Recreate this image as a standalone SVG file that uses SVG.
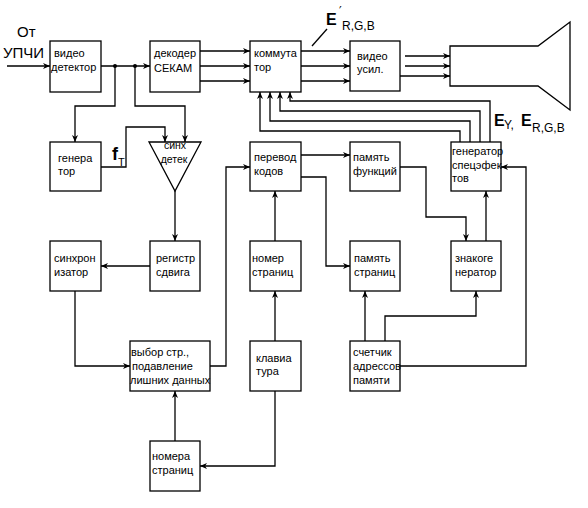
<svg xmlns="http://www.w3.org/2000/svg" width="588" height="508" viewBox="0 0 588 508">
<defs>
<marker id="ah" markerWidth="8" markerHeight="7" refX="7" refY="3.5" orient="auto" markerUnits="userSpaceOnUse">
<path d="M0,0.5 L7,3.5 L0,6.5 L2,3.5 z" fill="#000"/>
</marker>
</defs>
<style>
.b{fill:#fff;stroke:#000;stroke-width:1.3}
.t{font-family:"Liberation Sans",Arial,sans-serif;font-size:11px;font-weight:normal;fill:#000}
.s{font-family:"Liberation Sans",Arial,sans-serif;font-size:10.5px;fill:#000}
.c{fill:none;stroke:#000;stroke-width:1.3}
.a{marker-end:url(#ah)}
.bl{font-family:"Liberation Sans",Arial,sans-serif;font-weight:bold;fill:#000}
.sub{font-family:"Liberation Sans",Arial,sans-serif;font-size:12px;fill:#000}
</style>
<rect width="588" height="508" fill="#fff"/>
<g id="connectors" class="c">
<path class="a" d="M7,66 H50"/>
<path class="a" d="M101,66 H150"/>
<path class="a" d="M115,66 V106 H75 V142"/>
<path class="a" d="M135,66 V106 H185 V142"/>
<path class="a" d="M101,167 H126 V127 H165 V142"/>
<path class="a" d="M200,51 H250"/>
<path class="a" d="M200,66 H250"/>
<path class="a" d="M200,81 H250"/>
<path class="a" d="M301,51 H350"/>
<path class="a" d="M301,66 H350"/>
<path class="a" d="M301,81 H350"/>
<path class="a" d="M405,56 H450"/>
<path class="a" d="M405,66 H450"/>
<path class="a" d="M400,76 H450"/>
<path class="a" d="M460,142 V131 H260 V92"/>
<path class="a" d="M470,142 V121 H270 V92"/>
<path class="a" d="M480,142 V111 H280 V92"/>
<path class="a" d="M490,142 V101 H290 V92"/>
<path class="a" d="M175,191 V241"/>
<path class="a" d="M150,266 H101"/>
<path class="a" d="M75,291 V366 H130"/>
<path class="a" d="M210,366 H226 V167 H250"/>
<path class="a" d="M275,241 V191"/>
<path class="a" d="M275,341 V291"/>
<path class="a" d="M275,391 V466 H200"/>
<path class="a" d="M175,441 V391"/>
<path class="a" d="M301,155 H350"/>
<path class="a" d="M301,177 H326 V266 H350"/>
<path class="a" d="M400,167 H426 V217 H466 V241"/>
<path class="a" d="M486,241 V191"/>
<path class="a" d="M365,341 V291"/>
<path class="a" d="M385,341 V316 H476 V291"/>
<path class="a" d="M400,366 H526 V167 H501"/>
<path d="M312,46 L327,29"/>
</g>
<circle cx="115" cy="66" r="2" fill="#000"/>
<circle cx="135" cy="66" r="2" fill="#000"/>
<g id="input-label">
<text class="t" x="17" y="37" style="font-size:15px">От</text>
<text class="t" x="3" y="58" style="font-size:15px">УПЧИ</text>
</g>
<g id="videodetector"><rect class="b" x="50" y="41" width="51" height="51"/><text class="t" x="54" y="57">видео</text><text class="t" x="51" y="71">детектор</text></g>
<g id="decoder"><rect class="b" x="150" y="41" width="50" height="51"/><text class="t" x="154" y="57">декодер</text><text class="t" x="154" y="72">СЕКАМ</text></g>
<g id="commutator"><rect class="b" x="250" y="41" width="51" height="51"/><text class="t" x="254" y="57">коммута</text><text class="t" x="254" y="71">тор</text></g>
<g id="videoamp"><rect class="b" x="350" y="41" width="50" height="50"/><text class="t" x="357" y="60">видео</text><text class="t" x="357" y="73">усил.</text></g>
<g id="crt"><path class="b" d="M450,46 H538 L570,22 V110 L538,86 H450 Z"/></g>
<g id="generator"><rect class="b" x="50" y="142" width="51" height="49"/><text class="t" x="58" y="162">генера</text><text class="t" x="58" y="175">тор</text></g>
<g id="synchdet"><path class="b" d="M149,142 H201 L175,191 Z"/><text class="s" x="175" y="149" text-anchor="middle">синх</text><text class="s" x="174" y="163" text-anchor="middle">детек</text></g>
<g id="synchronizer"><rect class="b" x="50" y="241" width="51" height="50"/><text class="t" x="54" y="262">синхрон</text><text class="t" x="54" y="276">изатор</text></g>
<g id="shiftreg"><rect class="b" x="150" y="241" width="50" height="50"/><text class="t" x="156" y="262">регистр</text><text class="t" x="156" y="276">сдвига</text></g>
<g id="codeconv"><rect class="b" x="250" y="142" width="51" height="49"/><text class="t" x="254" y="161">перевод</text><text class="t" x="254" y="175">кодов</text></g>
<g id="pagenum"><rect class="b" x="250" y="241" width="51" height="50"/><text class="t" x="252" y="262">номер</text><text class="t" x="252" y="276">страниц</text></g>
<g id="keyboard"><rect class="b" x="250" y="341" width="51" height="50"/><text class="t" x="256" y="362">клавиа</text><text class="t" x="256" y="375">тура</text></g>
<g id="pagenums"><rect class="b" x="150" y="441" width="50" height="50"/><text class="t" x="152" y="460">номера</text><text class="t" x="152" y="474">страниц</text></g>
<g id="pagesel"><rect class="b" x="130" y="341" width="80" height="50"/><text class="t" x="131" y="356">выбор стр.,</text><text class="t" x="132" y="370">подавление</text><text class="t" x="130" y="384">лишних данных</text></g>
<g id="funcmem"><rect class="b" x="350" y="142" width="50" height="49"/><text class="t" x="353" y="161">память</text><text class="t" x="353" y="175">функций</text></g>
<g id="pagemem"><rect class="b" x="350" y="241" width="50" height="50"/><text class="t" x="354" y="262">память</text><text class="t" x="354" y="276">страниц</text></g>
<g id="chargen"><rect class="b" x="451" y="241" width="50" height="50"/><text class="t" x="455" y="262">знакоге</text><text class="t" x="455" y="276">нератор</text></g>
<g id="fxgen"><rect class="b" x="451" y="142" width="50" height="49"/><text class="t" x="452" y="155">генератор</text><text class="t" x="452" y="169">спецэфек</text><text class="t" x="452" y="182">тов</text></g>
<g id="counter"><rect class="b" x="350" y="341" width="50" height="50"/><text class="t" x="353" y="356">счетчик</text><text class="t" x="353" y="370">адрессов</text><text class="t" x="353" y="384">памяти</text></g>
<g id="labels">
<text class="bl" x="112" y="160" style="font-size:18px">f</text><text class="sub" x="118" y="166" style="font-size:11px">T</text>
<text class="bl" x="326" y="25" style="font-size:16px">E</text><text class="sub" x="339" y="15" style="font-size:12px;font-family:'DejaVu Sans',sans-serif">′</text><text class="sub" x="342" y="30">R,G,B</text>
<text class="bl" x="494" y="126" style="font-size:16px">E</text><text class="sub" x="504" y="129">Y,</text><text class="bl" x="521" y="126" style="font-size:16px">E</text><text class="sub" x="532" y="132">R,G,B</text>
</g>
</svg>
